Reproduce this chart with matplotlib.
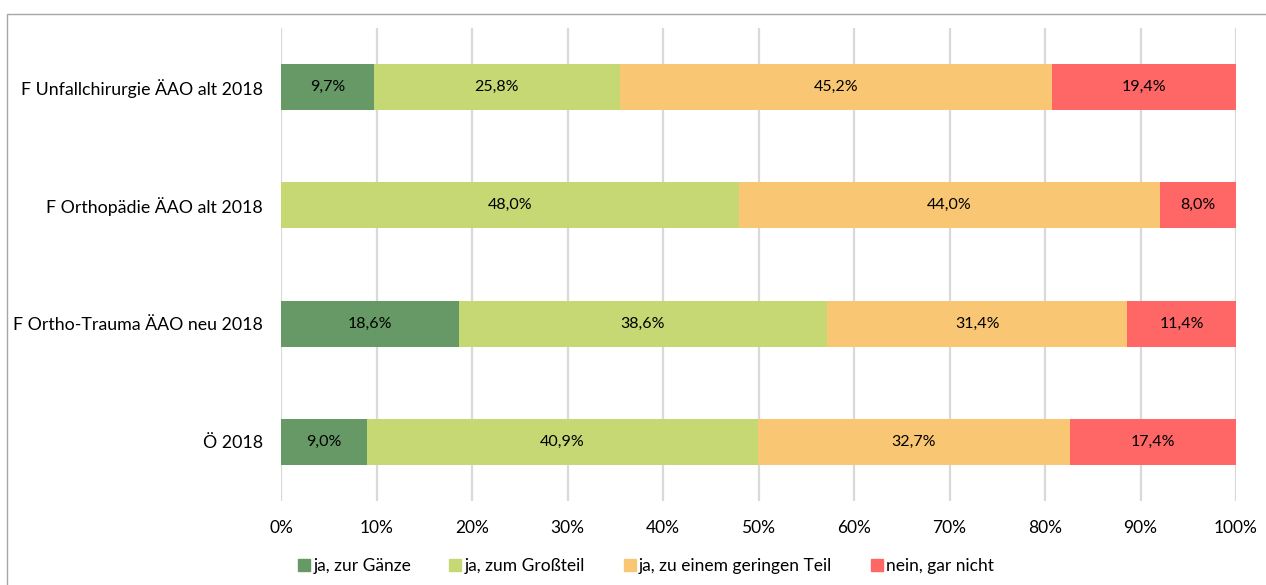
import matplotlib
matplotlib.use("Agg")
import matplotlib.pyplot as plt
from matplotlib.patches import Rectangle
from matplotlib.lines import Line2D

plt.rcParams['font.family'] = ['Lato', 'DejaVu Sans']

categories = ["F Unfallchirurgie ÄAO alt 2018", "F Orthopädie ÄAO alt 2018",
              "F Ortho-Trauma ÄAO neu 2018", "Ö 2018"]
series_names = ["ja, zur Gänze", "ja, zum Großteil", "ja, zu einem geringen Teil", "nein, gar nicht"]
zur_gaenze = [9.7, 0.0, 18.6, 9.0]
grossteil = [25.8, 48.0, 38.6, 40.9]
geringer_teil = [45.2, 44.0, 31.4, 32.7]
gar_nicht = [19.4, 8.0, 11.4, 17.4]
x_ticks = [0, 10, 20, 30, 40, 50, 60, 70, 80, 90, 100]
colors = ["#669966", "#C6D874", "#F9C773", "#FF6666"]

fig = plt.figure(figsize=(12.66, 5.85), dpi=100)
ax = fig.add_axes([281 / 1266, 1 - 501 / 585, (1236 - 281) / 1266, (501 - 28) / 585])

# outer chart frame
fig.patches.append(Rectangle((7 / 1266, -0.05), 1.1, 1 - 14 / 585 + 0.05,
                             transform=fig.transFigure, fill=False,
                             edgecolor="#A6A6A6", linewidth=1.0, zorder=0))

ypos = list(range(len(categories)))[::-1]
left = [0.0] * len(categories)
for name, vals, col in zip(series_names, [zur_gaenze, grossteil, geringer_teil, gar_nicht], colors):
    ax.barh(ypos, vals, left=left, height=0.39, color=col, zorder=3)
    for y, l, v in zip(ypos, left, vals):
        if v > 0:
            ax.text(l + v / 2, y, f"{v:.1f}%".replace(".", ","), ha="center", va="center",
                    fontsize=11.5, color="#000000", zorder=4)
    left = [a + b for a, b in zip(left, vals)]

ax.set_xlim(0, 100)
ax.set_ylim(-0.5, 3.5)
ax.set_xticks(x_ticks)
ax.set_xticklabels([f"{t}%" for t in x_ticks], fontsize=12.5, color="#000000")
ax.set_yticks(ypos)
ax.set_yticklabels(categories, fontsize=12.8, color="#000000")
ax.tick_params(length=0)
ax.tick_params(axis="x", pad=14)
ax.tick_params(axis="y", pad=13)
ax.grid(axis="x", color="#D9D9D9", linewidth=1.6, zorder=0)
ax.set_axisbelow(True)
for s in ax.spines.values():
    s.set_visible(False)

handles = [Line2D([0], [0], marker="s", linestyle="none", markersize=9,
                  markerfacecolor=c, markeredgecolor=c) for c in colors]
fig.legend(handles, series_names, loc="center", bbox_to_anchor=(645 / 1266, 1 - 566 / 585),
           ncol=4, frameon=False, fontsize=12.5, handletextpad=0.1, columnspacing=2.1,
           handlelength=0.9)

fig.savefig("out.png", dpi=100)
